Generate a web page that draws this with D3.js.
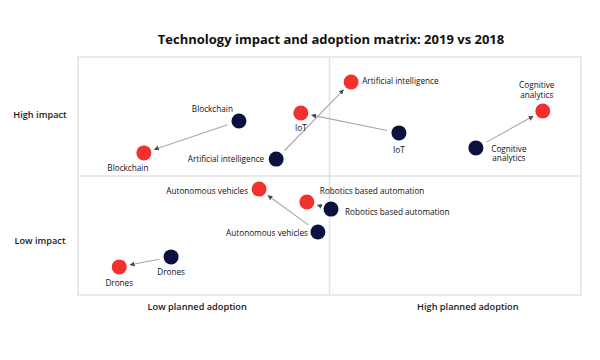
<!DOCTYPE html>
<html><head><meta charset="utf-8">
<script src="https://cdn.jsdelivr.net/npm/d3@7"></script>
<style>body{margin:0;background:#fff}svg{display:block}</style>
</head><body>
<svg id="c" width="600" height="360"></svg>
<script>
// ---- data ----
const technologies = ["Blockchain","Artificial intelligence","IoT","Cognitive analytics","Robotics based automation","Autonomous vehicles","Drones"];
const adoption2018 = [32.0, 39.4, 63.8, 79.1, 50.3, 47.7, 18.5];
const impact2018   = [73.1, 57.1, 68.1, 61.8, 36.1, 26.5, 16.0];
const adoption2019 = [13.1, 54.3, 44.3, 92.4, 45.5, 36.0, 8.2];
const impact2019   = [59.7, 89.5, 76.5, 77.3, 39.1, 44.5, 11.8];
const xCategories = ["Low planned adoption","High planned adoption"];
const yCategories = ["Low impact","High impact"];
const title = "Technology impact and adoption matrix: 2019 vs 2018";

// ---- label layout (placement only) ----
const lab18 = [
  {dx:-6, dy:-9, anchor:"end"},
  {dx:-12, dy:3, anchor:"end"},
  {dx:0, dy:20, anchor:"middle"},
  {dx:33, dy:4, anchor:"middle", lines:["Cognitive","analytics"]},
  {dx:14, dy:6, anchor:"start"},
  {dx:-10, dy:4, anchor:"end"},
  {dx:0, dy:18, anchor:"middle"}
];
const lab19 = [
  {dx:-16, dy:18, anchor:"middle"},
  {dx:11, dy:2, anchor:"start"},
  {dx:0, dy:18, anchor:"middle"},
  {dx:-6, dy:-23, anchor:"middle", lines:["Cognitive","analytics"]},
  {dx:13, dy:-8, anchor:"start"},
  {dx:-11, dy:5, anchor:"end"},
  {dx:0, dy:19, anchor:"middle"}
];

const svg = d3.select("#c");
const L = 78, R = 581, T = 57, B = 295;
const x = d3.scaleLinear().domain([0,100]).range([L,R]);
const y = d3.scaleLinear().domain([0,100]).range([B,T]);
const font = "'Open Sans', 'Noto Sans', sans-serif";

svg.append("text").attr("x",331).attr("y",44).attr("text-anchor","middle")
  .attr("font-family",font).attr("font-weight",700).attr("font-size",13)
  .attr("fill","#111").text(title);

const grid = svg.append("g").attr("stroke","#e2e2e2").attr("stroke-width",1.5).attr("fill","none");
grid.append("rect").attr("x",x(0)).attr("y",y(100)).attr("width",x(100)-x(0)).attr("height",y(0)-y(100));
grid.append("line").attr("x1",x(50)).attr("x2",x(50)).attr("y1",y(0)).attr("y2",y(100));
grid.append("line").attr("x1",x(0)).attr("x2",x(100)).attr("y1",y(50)).attr("y2",y(50));

// axis category labels
svg.selectAll("text.xc").data(xCategories).join("text").attr("class","xc")
  .attr("x",(d,i)=> i===0 ? x(23.7) : x(77.5)).attr("y",310)
  .attr("text-anchor","middle").attr("font-family",font).attr("font-weight",600)
  .attr("font-size",9.2).attr("fill","#1a1a1a").text(d=>d);
svg.selectAll("text.yc").data(yCategories).join("text").attr("class","yc")
  .attr("x",40).attr("y",(d,i)=> i===0 ? y(22.5)+3 : y(75.6)+3)
  .attr("text-anchor","middle").attr("font-family",font).attr("font-weight",600)
  .attr("font-size",9.2).attr("fill","#1a1a1a").text(d=>d);

// arrows
svg.append("defs").append("marker").attr("id","ah").attr("viewBox","0 0 10 10")
  .attr("refX",9).attr("refY",5).attr("markerWidth",5).attr("markerHeight",5)
  .attr("markerUnits","userSpaceOnUse").attr("orient","auto")
  .append("path").attr("d","M0,0L10,5L0,10Z").attr("fill","#4a4a4a");

const pts = technologies.map((t,i)=>({t,
  x0:x(adoption2018[i]), y0:y(impact2018[i]), x1:x(adoption2019[i]), y1:y(impact2019[i])}));

svg.append("g").selectAll("line").data(pts).join("line")
  .each(function(d){
    const dx=d.x1-d.x0, dy=d.y1-d.y0, len=Math.hypot(dx,dy), ux=dx/len, uy=dy/len;
    d3.select(this).attr("x1",d.x0+ux*12).attr("y1",d.y0+uy*12)
      .attr("x2",d.x1-ux*11).attr("y2",d.y1-uy*11);
  })
  .attr("stroke","#a8a8a8").attr("stroke-width",1.1).attr("marker-end","url(#ah)");

const r = 7.5;
svg.append("g").selectAll("circle").data(pts).join("circle")
  .attr("cx",d=>d.x0).attr("cy",d=>d.y0).attr("r",r).attr("fill","#0c1140");
svg.append("g").selectAll("circle").data(pts).join("circle")
  .attr("cx",d=>d.x1).attr("cy",d=>d.y1).attr("r",r).attr("fill","#f2302e");

function labels(cls, key, lay){
  const g = svg.append("g").attr("font-family",font).attr("font-size",8.2)
    .attr("font-weight",500).attr("fill","#111");
  pts.forEach((d,i)=>{
    const l = lay[i];
    const px = (key===0?d.x0:d.x1)+l.dx, py=(key===0?d.y0:d.y1)+l.dy;
    const lines = l.lines || [d.t];
    const tx = g.append("text").attr("class",cls).attr("x",px).attr("y",py).attr("text-anchor",l.anchor);
    lines.forEach((s,j)=> tx.append("tspan").attr("x",px).attr("dy", j===0?0:9.5).text(s));
  });
}
labels("l18",0,lab18);
labels("l19",1,lab19);
</script>
</body></html>
